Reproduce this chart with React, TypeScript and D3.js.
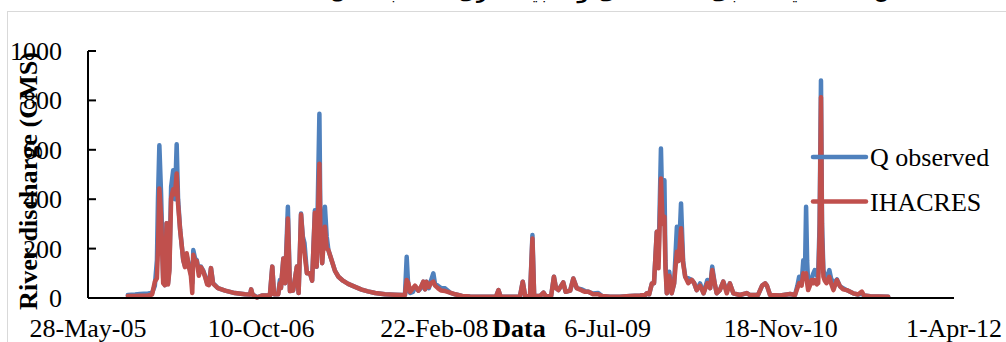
import * as d3 from 'd3';

const W = 1006;
const H = 342;

// axis set-up
const startDate = new Date(2005, 4, 28);
const endDate = new Date(2012, 3, 1);
const xTickLabels = ['28-May-05', '10-Oct-06', '22-Feb-08', '6-Jul-09', '18-Nov-10', '1-Apr-12'];
const yTickValues = [0, 200, 400, 600, 800, 1000];
const seriesNames = ['Q observed', 'IHACRES'];
const seriesColors = ['#4F81BD', '#C0504D'];

// days after 28-May-05
const dayOffsets = [
  115, 136, 150, 173, 185, 193, 199, 202, 206, 211,
  217, 222, 227, 231, 235, 240, 246, 251, 256, 260,
  266, 275, 280, 285, 292, 297, 301, 304, 309, 314,
  320, 326, 332, 338, 344, 349, 355, 361, 375, 396,
  424, 453, 468, 471, 475, 488, 502, 517, 525, 532,
  537, 549, 554, 557, 564, 569, 577, 580, 583, 592,
  603, 608, 615, 620, 625, 632, 641, 647, 655, 660,
  668, 671, 676, 684, 689, 694, 704, 713, 723, 736,
  751, 771, 790, 808, 829, 857, 886, 906, 915, 920,
  925, 930, 938, 944, 954, 961, 968, 973, 977, 984,
  990, 997, 1002, 1010, 1019, 1031, 1045, 1060, 1080, 1103,
  1132, 1161, 1178, 1185, 1191, 1218, 1247, 1255, 1262, 1276,
  1283, 1288, 1305, 1315, 1322, 1337, 1345, 1351, 1358, 1372,
  1379, 1392, 1401, 1411, 1426, 1435, 1445, 1458, 1473, 1484,
  1507, 1536, 1565, 1594, 1608, 1613, 1620, 1628, 1634, 1642,
  1647, 1654, 1659, 1664, 1667, 1671, 1678, 1685, 1692, 1700,
  1705, 1712, 1718, 1724, 1733, 1743, 1750, 1757, 1767, 1777,
  1788, 1796, 1802, 1809, 1815, 1824, 1834, 1844, 1853, 1863,
  1882, 1902, 1911, 1934, 1946, 1955, 1960, 1969, 1998, 2027,
  2041, 2048, 2053, 2060, 2065, 2070, 2073, 2076, 2079, 2084,
  2089, 2094, 2098, 2104, 2108, 2112, 2116, 2119, 2123, 2127,
  2132, 2140, 2145, 2152, 2162, 2171, 2180, 2190, 2209, 2223,
  2234, 2240, 2258, 2281, 2310,
];

const qObserved = [
  12, 14, 16, 18, 20, 50, 153, 400, 618, 420,
  80, 52, 303, 60, 120, 450, 517, 400, 622, 400,
  275, 153, 130, 170, 130, 100, 60, 194, 160, 153,
  110, 127, 113, 90, 60, 55, 121, 60, 40, 30,
  20, 15, 14, 35, 14, 3, 10, 10, 9, 127,
  15, 15, 73, 40, 160, 60, 369, 200, 28, 30,
  127, 20, 342, 250, 222, 100, 100, 70, 355, 127,
  746, 300, 141, 369, 250, 194, 150, 110, 86, 70,
  57, 45, 34, 27, 20, 15, 13, 12, 12, 167,
  30, 20, 25, 45, 30, 40, 66, 35, 66, 40,
  70, 100, 55, 50, 40, 39, 22, 15, 8, 6,
  5, 5, 6, 32, 6, 5, 6, 66, 8, 6,
  255, 8, 8, 22, 6, 8, 86, 40, 32, 63,
  25, 30, 79, 40, 35, 28, 25, 18, 20, 8,
  5, 5, 8, 10, 12, 19, 15, 59, 60, 268,
  150, 605, 300, 477, 150, 19, 106, 19, 59, 288,
  150, 383, 150, 86, 80, 73, 60, 32, 59, 19,
  73, 40, 127, 60, 19, 32, 66, 30, 59, 19,
  12, 20, 12, 12, 50, 59, 50, 12, 10, 16,
  12, 50, 86, 60, 153, 120, 369, 150, 60, 60,
  80, 100, 113, 90, 100, 300, 881, 300, 113, 90,
  70, 113, 80, 60, 75, 47, 40, 32, 19, 14,
  18, 10, 7, 6, 5,
];

const qIhacres = [
  8, 8, 9, 10, 14, 66, 80, 200, 443, 330,
  60, 52, 303, 55, 110, 404, 440, 420, 504, 380,
  275, 153, 125, 181, 120, 90, 20, 175, 150, 150,
  90, 125, 110, 85, 55, 52, 121, 58, 40, 30,
  20, 15, 14, 35, 14, 2, 10, 10, 9, 127,
  15, 15, 60, 40, 160, 60, 322, 180, 28, 30,
  127, 20, 338, 240, 180, 100, 100, 70, 345, 127,
  544, 260, 141, 288, 200, 194, 150, 110, 86, 70,
  57, 45, 34, 27, 20, 15, 13, 12, 12, 73,
  60, 25, 40, 50, 30, 45, 66, 35, 66, 45,
  60, 66, 50, 40, 30, 28, 22, 15, 8, 6,
  5, 5, 6, 32, 6, 5, 6, 66, 8, 6,
  241, 8, 8, 22, 6, 8, 86, 40, 32, 63,
  25, 30, 79, 40, 30, 25, 25, 15, 15, 8,
  5, 5, 8, 10, 12, 19, 15, 59, 60, 268,
  120, 484, 300, 329, 120, 19, 90, 19, 59, 187,
  150, 282, 140, 86, 60, 73, 60, 32, 50, 19,
  60, 40, 113, 60, 19, 32, 66, 19, 59, 19,
  12, 20, 12, 12, 50, 59, 50, 12, 10, 16,
  12, 40, 60, 50, 100, 80, 100, 60, 32, 50,
  73, 60, 73, 55, 60, 250, 813, 250, 86, 70,
  60, 86, 60, 32, 73, 47, 35, 32, 19, 14,
  26, 10, 7, 6, 5,
];

const SERIF = "'Liberation Serif', 'Times New Roman', serif";

export default function App() {
  const plot = { left: 88, right: 954, top: 51, bottom: 298 };

  const x = d3.scaleTime().domain([startDate, endDate]).range([plot.left, plot.right]);
  const y = d3.scaleLinear().domain([0, 1000]).range([plot.bottom, plot.top]);

  const parseTick = d3.timeParse('%d-%b-%y');
  const xTicks = xTickLabels.map((l) => ({ label: l, date: parseTick(l) as Date }));

  const dates = dayOffsets.map((d) => d3.timeDay.offset(startDate, d));
  const line = d3
    .line<number>()
    .x((_, i) => x(dates[i]))
    .y((v) => y(v));

  const series = [qObserved, qIhacres];

  return (
    <svg
      width={W}
      height={H}
      viewBox={`0 0 ${W} ${H}`}
      style={{ position: 'absolute', left: 0, top: 0, background: '#fff' }}
    >
      {/* caption above the frame, cut off by the top edge as in the source */}
      <text
        x={572}
        y={-1}
        textAnchor='middle'
        fontFamily="'DejaVu Sans', sans-serif"
        fontWeight='bold'
        fontSize={18}
        direction='rtl'
        textLength={700}
        lengthAdjust='spacing'
        fill='#000'
      >
        شکل ۴- مقایسه دبی مشاهداتی و شبیه‌سازی شده با مدل IHACRES
      </text>

      {/* chart frame */}
      <rect x={7.5} y={11.5} width={W} height={H} fill='none' stroke='#d9d9d9' strokeWidth={1} />

      {/* series */}
      {series.map((s, i) => (
        <path
          key={seriesNames[i]}
          d={line(s) ?? ''}
          fill='none'
          stroke={seriesColors[i]}
          strokeWidth={4.5}
          strokeLinejoin='round'
          strokeLinecap='round'
        />
      ))}

      {/* axes */}
      <line x1={plot.left} x2={plot.right} y1={plot.bottom} y2={plot.bottom} stroke='#000' strokeWidth={2} />
      <line x1={plot.left} x2={plot.left} y1={plot.top} y2={plot.bottom} stroke='#000' strokeWidth={2} />
      {yTickValues.map((t) => (
        <g key={t}>
          <line x1={plot.left} x2={plot.left + 8} y1={y(t)} y2={y(t)} stroke='#000' strokeWidth={2} />
          <text
            x={62}
            y={y(t) + 9}
            textAnchor='end'
            fontFamily={SERIF}
            fontSize={26}
            fill='#000'
          >
            {t}
          </text>
        </g>
      ))}
      {xTicks.map((t) => (
        <text
          key={t.label}
          x={x(t.date)}
          y={337}
          textAnchor='middle'
          fontFamily={SERIF}
          fontSize={26}
          fill='#000'
        >
          {t.label}
        </text>
      ))}

      {/* axis titles */}
      <text
        transform='translate(37,181) rotate(-90)'
        textAnchor='middle'
        fontFamily={SERIF}
        fontWeight='bold'
        fontSize={26}
        textLength={258}
        lengthAdjust='spacingAndGlyphs'
        fill='#000'
      >
        River discharge (CMS)
      </text>
      <text x={519} y={337} textAnchor='middle' fontFamily={SERIF} fontWeight='bold' fontSize={26} fill='#000'>
        Data
      </text>

      {/* legend */}
      {seriesNames.map((n, i) => (
        <g key={n} transform={`translate(0,${157 + i * 44.5})`}>
          <line x1={813} x2={866} y1={0} y2={0} stroke={seriesColors[i]} strokeWidth={4.5} strokeLinecap='round' />
          <text x={870} y={9} fontFamily={SERIF} fontSize={26} fill='#000'>
            {n}
          </text>
        </g>
      ))}
    </svg>
  );
}
